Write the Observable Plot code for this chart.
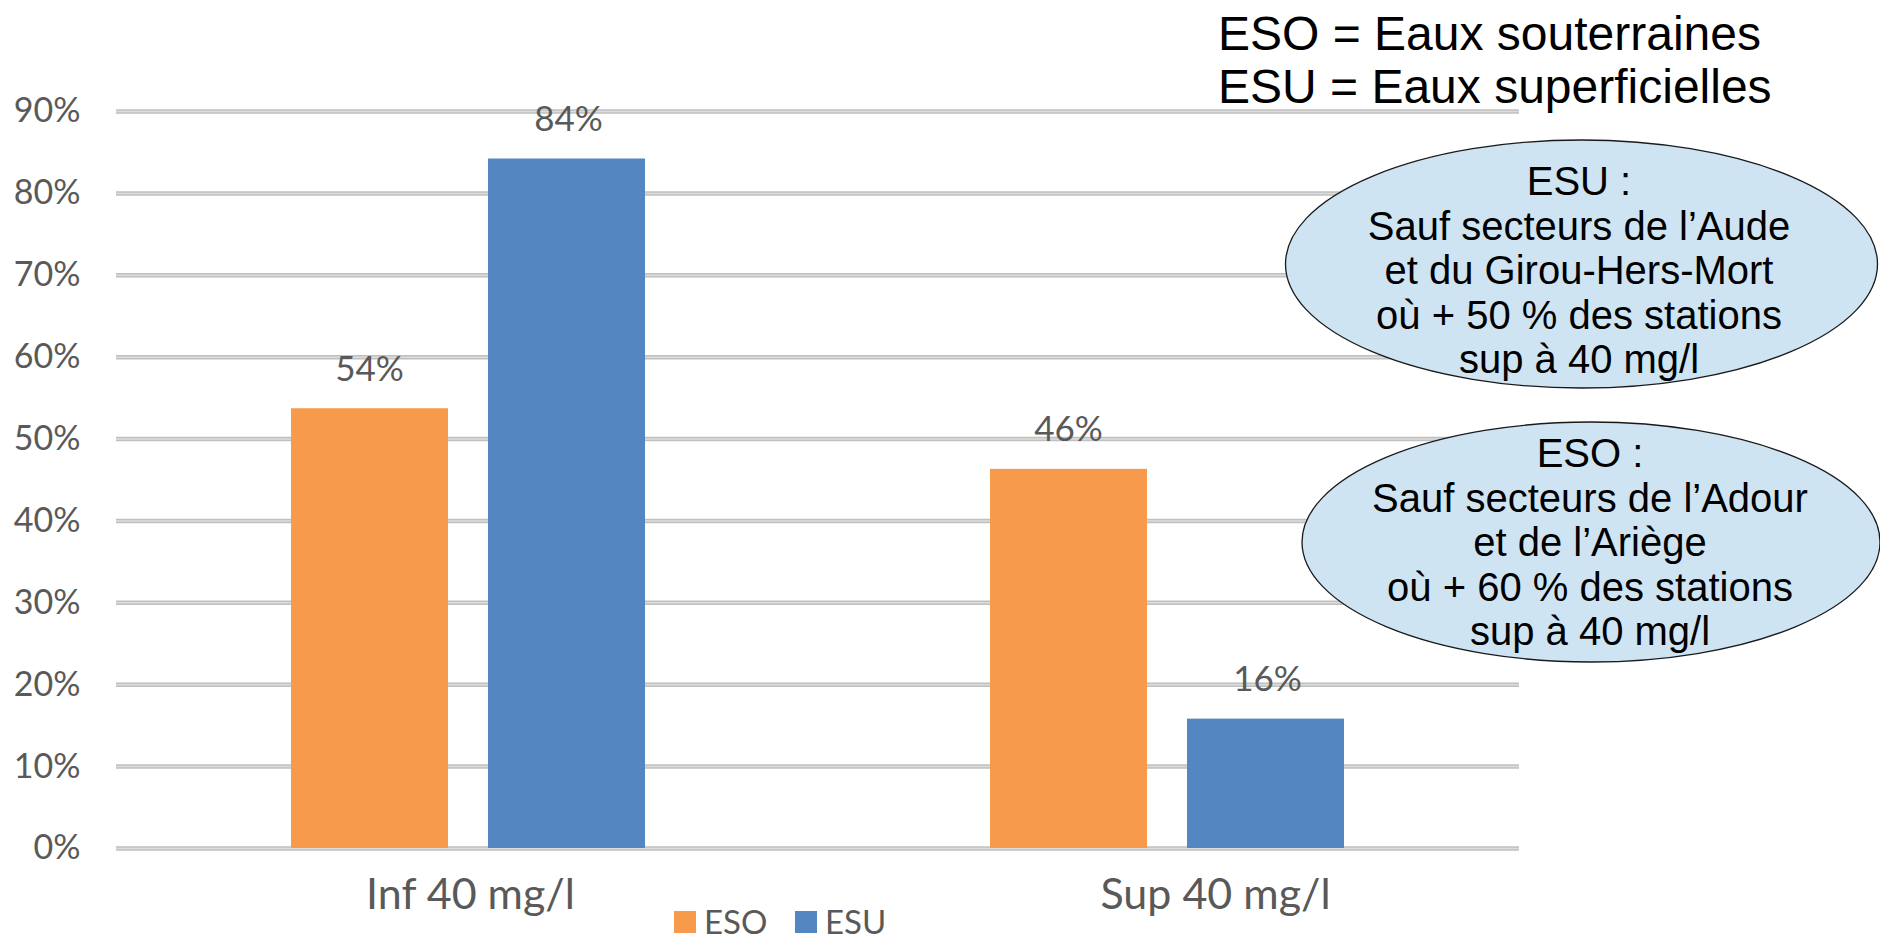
<!DOCTYPE html>
<html>
<head>
<meta charset="utf-8">
<script src="https://cdn.jsdelivr.net/npm/d3@7"></script>
<script src="https://cdn.jsdelivr.net/npm/@observablehq/plot@0.6"></script>
<style>
  html, body { margin: 0; padding: 0; background: #ffffff; }
  #chart { width: 1880px; height: 946px; overflow: hidden; }
</style>
</head>
<body>
<div id="chart"></div>
<script>
// ---- data ----
const categories = ["Inf 40 mg/l", "Sup 40 mg/l"];
const seriesNames = ["ESO", "ESU"];
const esoValues = [0.537, 0.463];
const esuValues = [0.842, 0.158];
const yTicks = [0, 0.1, 0.2, 0.3, 0.4, 0.5, 0.6, 0.7, 0.8, 0.9];
const seriesColors = ["#F79A4B", "#5487C1"];
const noteLines = ["ESO = Eaux souterraines", "ESU = Eaux superficielles"];
const esuNote = ["ESU :", "Sauf secteurs de l\u2019Aude", "et du Girou-Hers-Mort", "où + 50 % des stations", "sup à 40 mg/l"];
const esoNote = ["ESO :", "Sauf secteurs de l\u2019Adour", "et de l\u2019Ariège", "où + 60 % des stations", "sup à 40 mg/l"];

const rows = categories.flatMap((c, i) => [
  {cat: c, series: seriesNames[0], value: esoValues[i]},
  {cat: c, series: seriesNames[1], value: esuValues[i]}
]);
const esoRows = rows.filter(d => d.series === "ESO");
const esuRows = rows.filter(d => d.series === "ESU");
const pct = d3.format(".0%");
const gray = "#595959";
const chartFont = "Lato, 'Open Sans', sans-serif";
const noteFont = "'Liberation Sans', Arial, sans-serif";

const chart = Plot.plot({
  width: 1880,
  height: 946,
  marginLeft: 116,
  marginRight: 361,
  marginTop: 111,
  marginBottom: 98,
  style: {fontFamily: chartFont, background: "#ffffff", overflow: "visible"},
  x: {domain: categories, paddingInner: 0.4929, paddingOuter: 0.2486, axis: null},
  y: {domain: [0, 0.9], axis: null},
  marks: [
    Plot.ruleY(yTicks, {stroke: "#c0c0c0", strokeWidth: 4.5}),
    Plot.ruleY(yTicks, {stroke: "#dcdcdc", strokeWidth: 1.5}),
    Plot.axisY(yTicks, {label: null, tickSize: 0, tickPadding: 36, tickFormat: pct, fontSize: 34, color: gray, fontFamily: chartFont}),
    Plot.barY(esoRows, {x: "cat", y: "value", fill: seriesColors[0], insetRight: 197}),
    Plot.barY(esuRows, {x: "cat", y: "value", fill: seriesColors[1], insetLeft: 197}),
    Plot.text(esoRows, {x: "cat", y: "value", text: d => pct(Math.round(d.value * 100) / 100), dx: -99, dy: -28, lineAnchor: "bottom", fontSize: 35, fill: gray}),
    Plot.text(esuRows, {x: "cat", y: "value", text: d => pct(Math.round(d.value * 100) / 100), dx: 100, dy: -28, lineAnchor: "bottom", fontSize: 35, fill: gray}),
    Plot.text([categories[0]], {x: d => d, frameAnchor: "bottom", dx: 2, dy: 60, lineAnchor: "bottom", fontSize: 43, fill: gray}),
    Plot.text([categories[1]], {x: d => d, frameAnchor: "bottom", dx: 48, dy: 60, lineAnchor: "bottom", fontSize: 43, fill: gray})
  ]
});
document.getElementById("chart").appendChild(chart);

// ---- annotations ----
const svg = d3.select(chart);

// legend
const legend = svg.append("g").attr("font-family", chartFont).attr("font-size", 33)
  .attr("fill", gray).attr("text-anchor", "start");
const legendX = [674, 795];
seriesNames.forEach((s, i) => {
  legend.append("rect").attr("x", legendX[i]).attr("y", 911).attr("width", 22).attr("height", 22).attr("fill", seriesColors[i]);
  legend.append("text").attr("x", legendX[i] + 30).attr("y", 934).text(s);
});

// top note
const note = svg.append("g").attr("font-family", noteFont).attr("font-size", 48)
  .attr("fill", "#000").attr("text-anchor", "start");
noteLines.forEach((t, i) => note.append("text").attr("x", 1218).attr("y", 50 + i * 53).text(t));

// ellipses with text
function bubble(cx, cy, rx, ry, tx, firstBaseline, lines) {
  const g = svg.append("g");
  g.append("ellipse").attr("cx", cx).attr("cy", cy).attr("rx", rx).attr("ry", ry)
    .attr("fill", "#cfe4f3").attr("stroke", "#1a1a1a").attr("stroke-width", 1.3);
  const t = g.append("g").attr("font-family", noteFont).attr("font-size", 40).attr("fill", "#000").attr("text-anchor", "middle");
  lines.forEach((l, i) => t.append("text").attr("x", tx).attr("y", firstBaseline + i * 44.5).text(l));
}
bubble(1581.5, 264, 296, 124, 1579, 195, esuNote);
bubble(1591, 542, 289, 120, 1590, 467, esoNote);
</script>
</body>
</html>
